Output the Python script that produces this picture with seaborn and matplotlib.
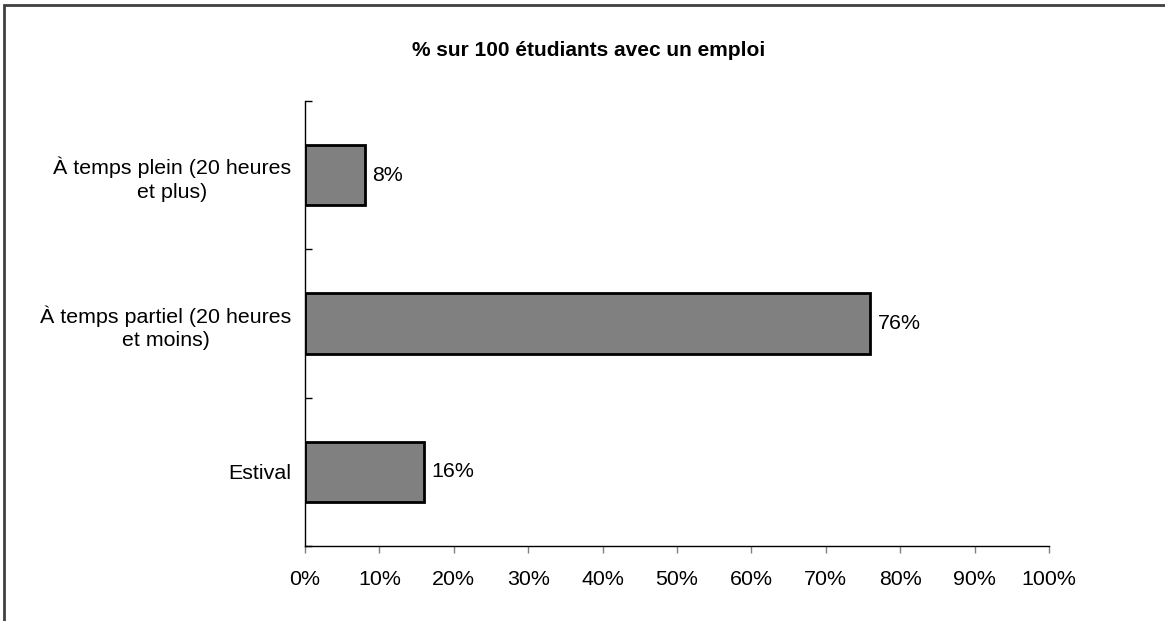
import matplotlib
matplotlib.use("Agg")
import matplotlib.pyplot as plt
import seaborn as sns
import pandas as pd
from matplotlib.patches import Rectangle
from matplotlib.ticker import PercentFormatter

categories = ["À temps plein (20 heures\net plus)",
              "À temps partiel (20 heures\net moins)",
              "Estival"]
values = [8, 76, 16]
x_ticks = list(range(0, 101, 10))
title = "% sur 100 étudiants avec un emploi"

sns.set_theme(style="white")
plt.rcParams["font.family"] = ["Liberation Sans", "DejaVu Sans"]
plt.rcParams["text.color"] = "black"
plt.rcParams["xtick.labelcolor"] = "black"
plt.rcParams["ytick.labelcolor"] = "black"

df = pd.DataFrame({"cat": categories, "val": values})

fig = plt.figure(figsize=(11.65, 6.21), dpi=100)
ax = fig.add_axes([305 / 1165, 1 - 546 / 621, (1049 - 305) / 1165, (546 - 101) / 621])

sns.barplot(data=df, x="val", y="cat", color="#808080", saturation=1,
            edgecolor="black", linewidth=2, width=0.405, ax=ax)

ax.set_xlim(0, 100)
ax.set_ylim(2.5, -0.5)
ax.set_xticks(x_ticks)
ax.xaxis.set_major_formatter(PercentFormatter(decimals=0))
ax.set_xlabel("")
ax.set_ylabel("")

fs = 15.4

# category ticks sit between bars, labels centred on bars
ax.set_yticks([-0.5, 0.5, 1.5, 2.5])
ax.set_yticklabels([])
ax.set_yticks([0, 1, 2], minor=True)
ax.set_yticklabels(categories, minor=True, fontsize=fs, ha="right",
                   multialignment="center", linespacing=1.3)
ax.tick_params(axis="y", which="major", left=True, direction="in", length=5,
               width=1, color="black")
ax.tick_params(axis="y", which="minor", left=True, length=0, pad=10)
ax.tick_params(axis="x", bottom=True, direction="out", length=5, width=1,
               color="#808080", labelsize=fs, labelcolor="black", pad=12)

for side in ["top", "right"]:
    ax.spines[side].set_visible(False)
for side in ["left", "bottom"]:
    ax.spines[side].set_color("black")
    ax.spines[side].set_linewidth(1)

for i, v in enumerate(values):
    ax.text(v + 1.0, i, f"{v}%", va="center", ha="left", fontsize=fs,
            color="black")

fig.text(589 / 1165, 1 - 50 / 621, title, ha="center", va="center",
         fontsize=15, fontweight="bold", color="black")

# figure frame (only top/left visible in the crop)
fig.patches.append(Rectangle((4 / 1165, -0.1), 1.2, 1 - 5 / 621 + 0.1,
                             transform=fig.transFigure, fill=False,
                             edgecolor="#404040", linewidth=2))

fig.savefig("out.png", dpi=100, facecolor="white")
